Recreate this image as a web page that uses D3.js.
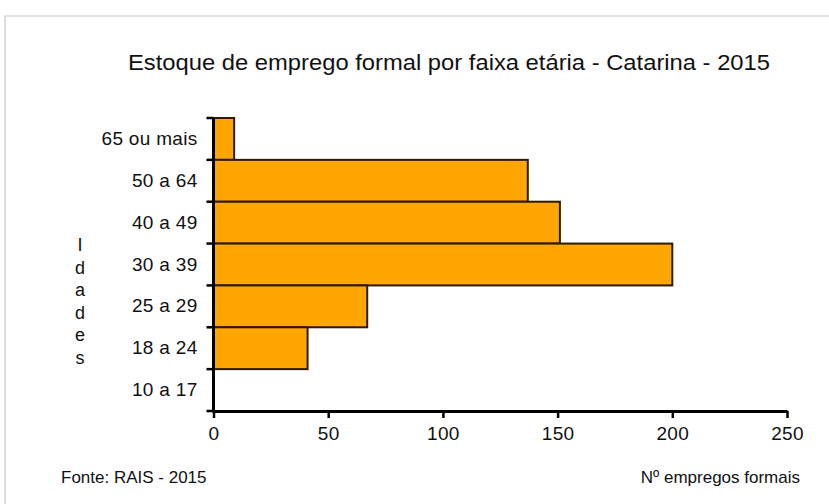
<!DOCTYPE html>
<html>
<head>
<meta charset="utf-8">
<script src="https://cdn.jsdelivr.net/npm/d3@7"></script>
<style>
  body { margin: 0; background: #fff; }
  text { font-family: "Liberation Sans", Arial, sans-serif; fill: #111; }
</style>
</head>
<body>
<svg id="chart" width="829" height="504"></svg>
<script>
// faixas etarias, de cima para baixo
var faixas = ["65 ou mais", "50 a 64", "40 a 49", "30 a 39", "25 a 29", "18 a 24", "10 a 17"];
var empregos = [9, 137, 151, 200, 67, 41, 0];
var xTicks = [0, 50, 100, 150, 200, 250];

var svg = d3.select("#chart"),
    width = +svg.attr("width"),
    height = +svg.attr("height");

var mLeft = 213.5, mRight = 787, mTop = 118, mBottom = 411;

// moldura (so topo e esquerda aparecem)
svg.append("path")
    .attr("d", "M5," + height + "V16H" + width)
    .attr("fill", "none")
    .attr("stroke", "#c8c8c8")
    .attr("stroke-width", 1.2);

var x = d3.scaleLinear().domain([0, 250]).range([mLeft, mRight]);
var y = d3.scaleBand().domain(faixas).range([mTop, mBottom]).padding(0);

var data = faixas.map(function (f, i) { return { faixa: f, valor: empregos[i] }; });

svg.append("g")
    .selectAll("rect")
    .data(data.filter(function (d) { return d.valor > 0; }))
    .enter().append("rect")
    .attr("x", x(0))
    .attr("y", function (d) { return y(d.faixa); })
    .attr("width", function (d) { return x(d.valor) - x(0); })
    .attr("height", y.bandwidth())
    .attr("fill", "#ffa600")
    .attr("stroke", "#2b1a05")
    .attr("stroke-width", 2);

// eixo x
var xAxis = svg.append("g")
    .attr("transform", "translate(0," + mBottom + ")")
    .call(d3.axisBottom(x).tickValues(xTicks).tickSize(7).tickPadding(9).tickSizeOuter(0));
xAxis.select(".domain").attr("stroke", "#000").attr("stroke-width", 3);
xAxis.selectAll(".tick line").attr("stroke", "#000").attr("stroke-width", 2.5);
xAxis.selectAll(".tick text")
    .style("font-family", "'Liberation Sans', Arial, sans-serif")
    .style("font-size", "19px")
    .style("letter-spacing", "0.3px")
    .attr("fill", "#111");

// eixo y
var yAxis = svg.append("g")
    .attr("transform", "translate(" + mLeft + ",0)")
    .call(d3.axisLeft(y).tickSize(0).tickPadding(16));
yAxis.select(".domain").remove();
yAxis.selectAll(".tick text")
    .style("font-family", "'Liberation Sans', Arial, sans-serif")
    .style("font-size", "19px")
    .style("letter-spacing", "0.3px")
    .attr("fill", "#111");

svg.append("line")
    .attr("x1", mLeft).attr("x2", mLeft)
    .attr("y1", mTop).attr("y2", mBottom + 1.5)
    .attr("stroke", "#000").attr("stroke-width", 3);

// marcas entre as faixas
var limites = faixas.map(function (f) { return y(f); }).concat([mBottom]);
svg.append("g")
    .selectAll("line")
    .data(limites)
    .enter().append("line")
    .attr("x1", mLeft - 7).attr("x2", mLeft)
    .attr("y1", function (d) { return d; })
    .attr("y2", function (d) { return d; })
    .attr("stroke", "#000")
    .attr("stroke-width", 2.5);

// titulo
svg.append("text")
    .attr("x", 128)
    .attr("y", 70)
    .attr("textLength", 642)
    .attr("lengthAdjust", "spacingAndGlyphs")
    .style("font-size", "22px")
    .text("Estoque de emprego formal por faixa etária - Catarina - 2015");

// rotulo vertical
var rot = svg.append("text")
    .attr("text-anchor", "middle")
    .style("font-size", "18px");
"Idades".split("").forEach(function (c, i) {
    rot.append("tspan")
        .attr("x", 80)
        .attr("y", 251 + i * 22.5)
        .text(c);
});

svg.append("text")
    .attr("x", 61)
    .attr("y", 483)
    .style("font-size", "17px")
    .text("Fonte: RAIS - 2015");

svg.append("text")
    .attr("x", 800)
    .attr("y", 483)
    .attr("text-anchor", "end")
    .style("font-size", "17px")
    .text("Nº empregos formais");
</script>
</body>
</html>
